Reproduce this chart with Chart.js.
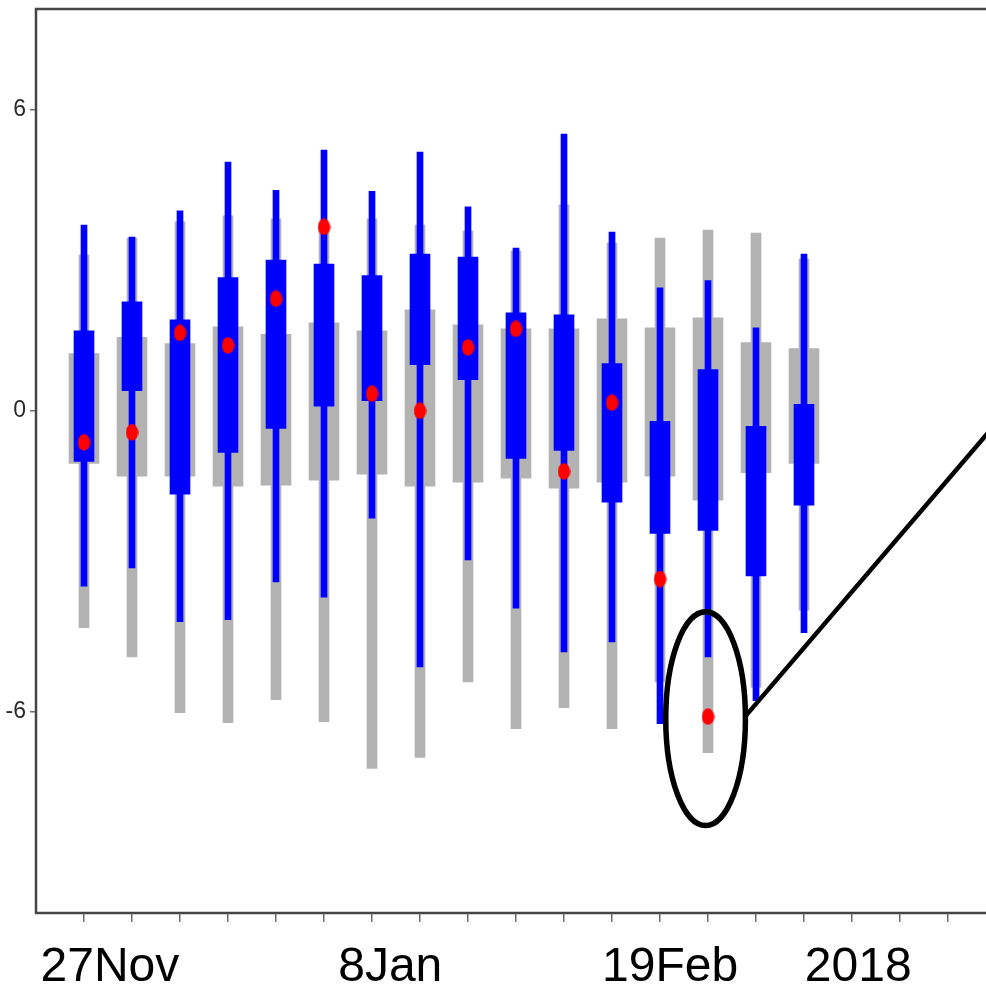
<!DOCTYPE html>
<html>
<head>
<meta charset="utf-8">
<title>Weekly ranges</title>
<script src="https://cdn.jsdelivr.net/npm/chart.js@4.4.1/dist/chart.umd.min.js"></script>
<style>
    html, body { margin: 0; padding: 0; background: #fff; overflow: hidden; }
    #wrap { width: 986px; height: 986px; overflow: hidden; }
    canvas { display: block; }
</style>
</head>
<body>
<div id="wrap"><canvas id="rangeChart" width="1010" height="986"></canvas></div>
<script>
// Week slots (x axis units, one per week)
const weeks = [0, 1, 2, 3, 4, 5, 6, 7, 8, 9, 10, 11, 12, 13, 14, 15];

// This season: whiskers and boxes (blue)
const seasonWhiskerHigh = [3.70, 3.46, 3.98, 4.95, 4.39, 5.19, 4.37, 5.15, 4.06, 3.24, 5.51, 3.56, 2.45, 2.59, 1.65, 3.12];
const seasonBoxHigh     = [1.59, 2.17, 1.81, 2.65, 3.00, 2.92, 2.69, 3.12, 3.06, 1.95, 1.91, 0.94, -0.21, 0.82, -0.31, 0.13];
const seasonBoxLow      = [-1.01, 0.40, -1.66, -0.83, -0.35, 0.09, 0.20, 0.92, 0.62, -0.95, -0.79, -1.82, -2.44, -2.38, -3.29, -1.88];
const seasonWhiskerLow  = [-3.49, -3.13, -4.20, -4.16, -3.41, -3.71, -2.14, -5.10, -2.97, -3.93, -4.80, -4.60, -6.23, -4.90, -5.77, -4.42];

// Reference period: whiskers and boxes (grey)
const pastWhiskerHigh = [3.10, 3.44, 3.76, 3.88, 3.82, 3.62, 3.82, 3.70, 3.58, 3.18, 4.10, 3.34, 3.44, 3.60, 3.54, 3.02];
const pastBoxHigh     = [1.14, 1.46, 1.34, 1.67, 1.52, 1.75, 1.59, 2.01, 1.71, 1.63, 1.63, 1.83, 1.65, 1.85, 1.36, 1.24];
const pastBoxLow      = [-1.05, -1.30, -1.30, -1.50, -1.48, -1.38, -1.26, -1.50, -1.42, -1.34, -1.54, -1.42, -1.30, -1.78, -1.23, -1.05];
const pastWhiskerLow  = [-4.32, -4.90, -6.01, -6.21, -5.75, -6.19, -7.12, -6.90, -5.40, -6.33, -5.91, -6.33, -5.40, -6.81, -5.51, -3.97];

// Latest reading per week (red), none yet for the last two
const latestValue = [-0.63, -0.43, 1.55, 1.30, 2.23, 3.66, 0.34, 0.00, 1.26, 1.63, -1.21, 0.16, -3.35, -6.09, null, null];

// Axis ticks
const yTickValues = [-6, 0, 6];
const xTickLabels = ['27Nov', '8Jan', '19Feb', '2018'];
const xTickValues = [0.54, 6.38, 12.21, 16.13];
const xMinorTicks = [0, 1, 2, 3, 4, 5, 6, 7, 8, 9, 10, 11, 12, 13, 14, 15, 16, 17, 18];

// Highlight ring around week 13 and its pointer
const ringCenter = [12.95, -6.13];
const ringRadius = [0.83, 2.13];
const pointerFrom = [13.79, -6.07];
const pointerTo = [19.2, -0.03];

const COLORS = {
    season: '#0000ff',
    past: '#b3b3b3',
    latest: '#ff0000',
    frame: '#454545',
    tick: '#6e6e6e'
};

Chart.defaults.font.family = '"Liberation Sans", Arial, Helvetica, sans-serif';

const RangeChart = {
    /**
     * Build floating bar points from two series
     * @param {Array} lows - lower ends
     * @param {Array} highs - upper ends
     * @returns {Array} - {x, y:[lo, hi]} points
     */
    ranges(lows, highs) {
        return weeks.map((w, i) => ({ x: w, y: [lows[i], highs[i]] }));
    },

    /**
     * Oval marker drawn once and reused as a point style
     */
    makeDot(w, h, color) {
        const c = document.createElement('canvas');
        c.width = w;
        c.height = h;
        const g = c.getContext('2d');
        g.fillStyle = color;
        g.beginPath();
        g.ellipse(w / 2, h / 2, w / 2 - 0.3, h / 2 - 0.3, 0, 0, Math.PI * 2);
        g.fill();
        return c;
    },

    rangeSet(label, lows, highs, color, thickness, order) {
        return {
            type: 'bar',
            label,
            data: this.ranges(lows, highs),
            backgroundColor: color,
            borderWidth: 0,
            barThickness: thickness,
            grouped: false,
            order
        };
    },

    // no extra room for half-height tick labels, the layout is fixed
    fixPadding(scale) {
        scale.paddingTop = 0;
        scale.paddingBottom = 0;
        scale.paddingLeft = 0;
        scale.paddingRight = 0;
    },

    // frame around the plot plus the highlight ring
    overlay: {
        id: 'overlay',
        afterDraw(chart) {
            const { ctx, chartArea: a, scales: { x, y } } = chart;
            ctx.save();
            ctx.strokeStyle = COLORS.frame;
            ctx.lineWidth = 2.5;
            ctx.strokeRect(a.left, a.top, a.right - a.left, a.bottom - a.top);

            const cx = x.getPixelForValue(ringCenter[0]);
            const cy = y.getPixelForValue(ringCenter[1]);
            const rx = x.getPixelForValue(ringCenter[0] + ringRadius[0]) - cx;
            const ry = cy - y.getPixelForValue(ringCenter[1] + ringRadius[1]);
            ctx.strokeStyle = '#000';
            ctx.lineWidth = 5.5;
            ctx.beginPath();
            ctx.ellipse(cx, cy, rx, ry, 0, 0, Math.PI * 2);
            ctx.stroke();

            ctx.lineWidth = 4.5;
            ctx.beginPath();
            ctx.moveTo(x.getPixelForValue(pointerFrom[0]), y.getPixelForValue(pointerFrom[1]));
            ctx.lineTo(x.getPixelForValue(pointerTo[0]), y.getPixelForValue(pointerTo[1]));
            ctx.stroke();
            ctx.restore();
        }
    },

    create(canvasId) {
        const canvas = document.getElementById(canvasId);
        if (!canvas) {
            console.error(`Canvas element with ID '${canvasId}' not found`);
            return null;
        }

        const datasets = [
            this.rangeSet('past whisker', pastWhiskerLow, pastWhiskerHigh, COLORS.past, 10, 4),
            this.rangeSet('past box', pastBoxLow, pastBoxHigh, COLORS.past, 30, 3),
            this.rangeSet('season whisker', seasonWhiskerLow, seasonWhiskerHigh, COLORS.season, 6, 2),
            this.rangeSet('season box', seasonBoxLow, seasonBoxHigh, COLORS.season, 20, 1),
            {
                type: 'scatter',
                label: 'latest',
                data: weeks.map((w, i) => ({ x: w, y: latestValue[i] })),
                pointStyle: this.makeDot(13, 17, COLORS.latest),
                pointRadius: 8,
                showLine: false,
                order: 0
            }
        ];

        return new Chart(canvas.getContext('2d'), {
            type: 'bar',
            data: { datasets },
            options: {
                responsive: false,
                animation: false,
                devicePixelRatio: 1,
                layout: { padding: { top: 7, right: 14, left: 0, bottom: 0 } },
                plugins: {
                    legend: { display: false },
                    tooltip: { enabled: false }
                },
                scales: {
                    x: {
                        type: 'linear',
                        min: -1,
                        max: 19,
                        offset: false,
                        afterBuildTicks: (scale) => {
                            scale.ticks = xMinorTicks.concat(xTickValues).map(v => ({ value: v }));
                        },
                        afterFit: (scale) => {
                            scale.height = 73;
                            RangeChart.fixPadding(scale);
                        },
                        border: { display: false },
                        grid: {
                            offset: false,
                            drawOnChartArea: false,
                            tickLength: 9,
                            lineWidth: 1.5,
                            color: (c) => (c.tick && Number.isInteger(c.tick.value)) ? COLORS.tick : 'rgba(0,0,0,0)'
                        },
                        ticks: {
                            autoSkip: false,
                            maxRotation: 0,
                            padding: 17,
                            color: '#000',
                            font: { size: 48 },
                            callback: (value) => {
                                const i = xTickValues.indexOf(value);
                                return i >= 0 ? xTickLabels[i] : '';
                            }
                        }
                    },
                    y: {
                        type: 'linear',
                        min: -10,
                        max: 8,
                        afterBuildTicks: (scale) => {
                            scale.ticks = yTickValues.map(v => ({ value: v }));
                        },
                        afterFit: (scale) => {
                            scale.width = 36;
                            RangeChart.fixPadding(scale);
                        },
                        border: { display: false },
                        grid: {
                            offset: false,
                            drawOnChartArea: false,
                            tickLength: 6,
                            lineWidth: 1.5,
                            color: COLORS.tick
                        },
                        ticks: {
                            padding: 4,
                            color: '#2a2a2a',
                            font: { size: 23, family: '"Liberation Sans Narrow", "Liberation Sans", Arial, sans-serif' }
                        }
                    }
                }
            },
            plugins: [this.overlay]
        });
    }
};

RangeChart.create('rangeChart');
</script>
</body>
</html>
